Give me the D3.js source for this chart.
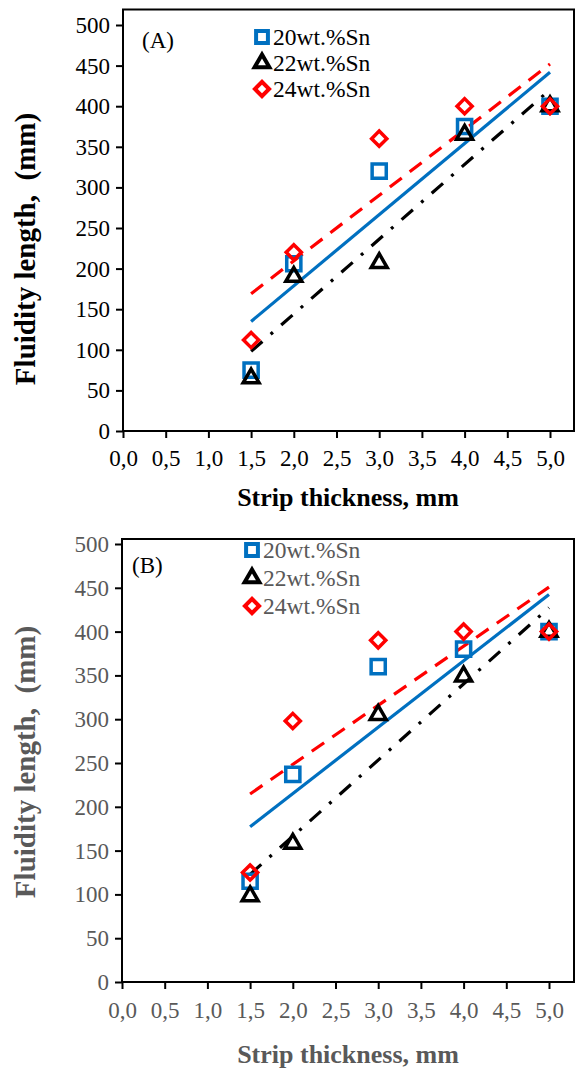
<!DOCTYPE html>
<html>
<head>
<meta charset="utf-8">
<script src="https://cdn.jsdelivr.net/npm/d3@7"></script>
<style>
  html, body { margin: 0; padding: 0; background: #fff; }
  svg { display: block; }
  text { white-space: pre; }
</style>
</head>
<body>
<svg id="chart" width="577" height="1068"></svg>
<script>
// ---------- DATA ----------
const thickness = [1.5, 2.0, 3.0, 4.0, 5.0];
const seriesNames = ["20wt.%Sn", "22wt.%Sn", "24wt.%Sn"];
const panelA_20 = [75, 206, 320, 375, 400];
const panelA_22 = [65, 190, 207, 365, 400];
const panelA_24 = [112, 220, 360, 400, 400];
const panelB_20 = [115, 237, 360, 380, 400];
const panelB_22 = [98, 158, 305, 349, 400];
const panelB_24 = [125, 298, 390, 400, 400];
const xTicks = [0, 0.5, 1.0, 1.5, 2.0, 2.5, 3.0, 3.5, 4.0, 4.5, 5.0];
const yTicks = [0, 50, 100, 150, 200, 250, 300, 350, 400, 450, 500];
const xTitle = "Strip thickness, mm";
const yTitle = "Fluidity length,  (mm)";

// ---------- STYLE ----------
const seriesStyle = [
  { color: "#0070C0", symbol: "square", dash: null },
  { color: "#000000", symbol: "triangle", dash: "15,11,3,11" },
  { color: "#FF0000", symbol: "diamond", dash: "15,10" }
];
const FONT = "'Liberation Serif', 'Times New Roman', serif";

const svg = d3.select("#chart");

function regression(xs, ys) {
  const n = xs.length;
  const mx = d3.mean(xs), my = d3.mean(ys);
  let sxy = 0, sxx = 0;
  for (let i = 0; i < n; i++) { sxy += (xs[i]-mx)*(ys[i]-my); sxx += (xs[i]-mx)*(xs[i]-mx); }
  const b = sxy / sxx;
  return { b, a: my - b*mx };
}

function markerPath(type, big) {
  if (type === "square") return d3.symbol(d3.symbolSquare, big ? 200 : 140)();
  if (type === "triangle") return d3.symbol(d3.symbolTriangle, big ? 110 : 95)();
  return d3.symbol(d3.symbolSquare, big ? 115 : 100)();
}

function drawPanel(cfg) {
  const g = svg.append("g");
  const x = d3.scaleLinear().domain([0, 5]).range([cfg.x0, cfg.x5]);
  const y = d3.scaleLinear().domain([0, 500]).range([cfg.y0, cfg.y500]);
  const tc = cfg.textColor;

  // frame
  g.append("rect")
    .attr("x", cfg.left).attr("y", cfg.top)
    .attr("width", cfg.right - cfg.left).attr("height", cfg.y0 - cfg.top)
    .attr("fill", "none").attr("stroke", "#000").attr("stroke-width", 2);

  // x axis
  const xAxis = d3.axisBottom(x).tickValues(xTicks).tickSize(7).tickSizeOuter(0)
    .tickFormat(d => d3.format(".1f")(d).replace(".", ","));
  const gx = g.append("g").attr("transform", `translate(0,${cfg.y0})`).call(xAxis);
  gx.select(".domain").remove();
  gx.selectAll(".tick line").attr("stroke", "#000").attr("stroke-width", 2);
  gx.selectAll(".tick text").attr("font-family", FONT).attr("font-size", 23)
    .attr("fill", tc).attr("dy", null).attr("y", cfg.xLabelDy);

  // y axis
  const yAxis = d3.axisLeft(y).tickValues(yTicks).tickSize(7).tickSizeOuter(0);
  const gy = g.append("g").attr("transform", `translate(${cfg.left},0)`).call(yAxis);
  gy.select(".domain").remove();
  gy.selectAll(".tick line").attr("stroke", "#000").attr("stroke-width", 2);
  gy.selectAll(".tick text").attr("font-family", FONT).attr("font-size", 23)
    .attr("fill", tc).attr("x", -13).attr("dy", "0.33em");

  // titles
  g.append("text").attr("x", cfg.xTitleX).attr("y", cfg.xTitleY)
    .attr("text-anchor", "middle").attr("font-family", FONT).attr("font-weight", "bold")
    .attr("font-size", 26).attr("fill", tc).text(xTitle);
  g.append("text")
    .attr("transform", `translate(${cfg.yTitleX},${cfg.yTitleY}) rotate(-90)`)
    .attr("text-anchor", "middle").attr("font-family", FONT).attr("font-weight", "bold")
    .attr("font-size", 29).attr("fill", tc).text(yTitle);

  // panel label
  g.append("text").attr("x", cfg.labelX).attr("y", cfg.labelY)
    .attr("font-family", FONT).attr("font-size", 23).attr("fill", "#000").text(cfg.label);

  // trend lines
  cfg.series.forEach((vals, i) => {
    const r = regression(thickness, vals);
    const xs = [d3.min(thickness), d3.max(thickness)];
    const line = d3.line().x(d => x(d)).y(d => y(r.a + r.b * d));
    g.append("path").datum(xs).attr("d", line)
      .attr("fill", "none").attr("stroke", seriesStyle[i].color)
      .attr("stroke-width", 3.2)
      .attr("stroke-dasharray", seriesStyle[i].dash);
  });

  // markers
  cfg.series.forEach((vals, i) => {
    const st = seriesStyle[i];
    g.append("g").selectAll("path").data(vals).join("path")
      .attr("d", markerPath(st.symbol, true))
      .attr("transform", (d, j) => `translate(${x(thickness[j])},${y(d)})` + (st.symbol === "diamond" ? " rotate(45)" : ""))
      .attr("fill", "none").attr("stroke", st.color).attr("stroke-width", 3.5);
  });

  // legend
  seriesNames.forEach((name, i) => {
    const st = seriesStyle[i];
    const ly = cfg.legendY + i * cfg.legendStep;
    g.append("path").attr("d", markerPath(st.symbol, false))
      .attr("transform", `translate(${cfg.legendX},${ly})` + (st.symbol === "diamond" ? " rotate(45)" : ""))
      .attr("fill", "none").attr("stroke", st.color).attr("stroke-width", 4);
    g.append("text").attr("x", cfg.legendX + 11).attr("y", ly).attr("dy", "0.35em")
      .attr("font-family", FONT).attr("font-size", 23.5).attr("fill", tc).text(name);
  });
}

drawPanel({
  left: 123, right: 574, top: 9.5, y0: 431, y500: 25, x0: 123, x5: 550,
  textColor: "#000", xLabelDy: 35, xTitleX: 348, xTitleY: 506, yTitleX: 35, yTitleY: 249,
  label: "(A)", labelX: 142, labelY: 48,
  legendX: 262, legendY: 37, legendStep: 26,
  series: [panelA_20, panelA_22, panelA_24]
});

drawPanel({
  left: 122, right: 574, top: 539, y0: 982, y500: 544, x0: 122, x5: 549,
  textColor: "#595959", xLabelDy: 36, xTitleX: 348, xTitleY: 1063, yTitleX: 35, yTitleY: 762,
  label: "(B)", labelX: 132, labelY: 573,
  legendX: 252, legendY: 550, legendStep: 28,
  series: [panelB_20, panelB_22, panelB_24]
});
</script>
</body>
</html>
